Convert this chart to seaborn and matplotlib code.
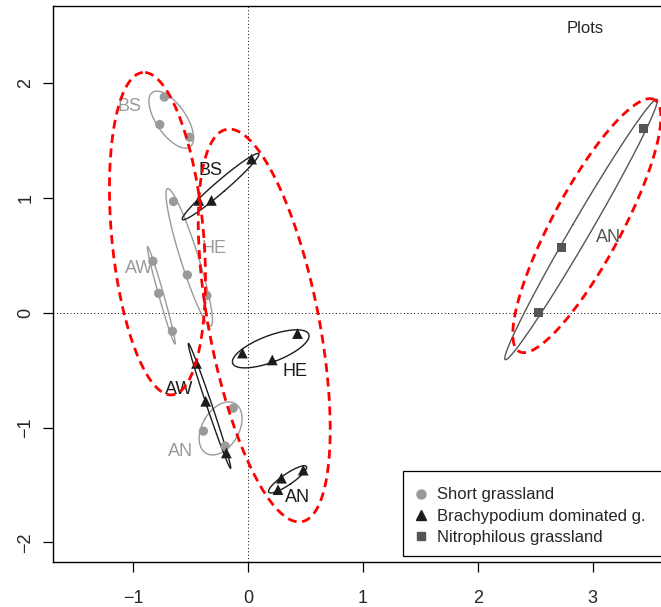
import numpy as np
import pandas as pd
import matplotlib
matplotlib.use("Agg")
import matplotlib.pyplot as plt
from matplotlib.lines import Line2D
from matplotlib.patches import Rectangle
import seaborn as sns

sns.set_theme(style="white")
plt.rcParams['font.family'] = ['Liberation Sans', 'DejaVu Sans']

# ---- data (scores) ----
groups = ["Short grassland"] * 12 + ["Brachypodium dominated g."] * 12 + ["Nitrophilous grassland"] * 3
plots = (["BS"] * 3 + ["HE"] * 3 + ["AW"] * 3 + ["AN"] * 3) * 2 + ["AN"] * 3
axis1 = [-0.73, -0.77, -0.51, -0.65, -0.53, -0.36, -0.83, -0.78, -0.66, -0.13, -0.39, -0.20,
         0.03, -0.43, -0.32, -0.05, 0.21, 0.43, -0.45, -0.37, -0.19, 0.48, 0.29, 0.26,
         3.44, 2.73, 2.53]
axis2 = [1.88, 1.64, 1.53, 0.97, 0.33, 0.15, 0.45, 0.17, -0.16, -0.83, -1.03, -1.16,
         1.34, 0.98, 0.98, -0.35, -0.41, -0.18, -0.44, -0.77, -1.22, -1.37, -1.44, -1.54,
         1.61, 0.57, 0.00]

# group label positions
label_group = ["Short grassland"] * 4 + ["Brachypodium dominated g."] * 4 + ["Nitrophilous grassland"]
label_text = ["BS", "HE", "AW", "AN", "BS", "HE", "AW", "AN", "AN"]
label_x = [-1.03, -0.30, -0.95, -0.59, -0.33, 0.41, -0.60, 0.43, 3.14]
label_y = [1.80, 0.56, 0.39, -1.21, 1.24, -0.51, -0.67, -1.61, 0.66]

# highlighted clusters (red dashed ellipses): centre, semi-axes, angle (deg)
red_cx = [-0.79, 0.14, 2.95]
red_cy = [0.69, -0.11, 0.76]
red_a = [1.41, 1.74, 1.245]
red_b = [0.40, 0.48, 0.30]
red_angle = [95.2, 100.9, 61.8]

group_order = ["Short grassland", "Brachypodium dominated g.", "Nitrophilous grassland"]
group_colors = ["#9a9a9a", "#1c1c1c", "#555555"]
group_markers = ["o", "^", "s"]
group_sizes = [45, 60, 42]

df = pd.DataFrame({"group": groups, "plot": plots, "x": axis1, "y": axis2})

W, H = 661, 607
fig = plt.figure(figsize=(W / 100, H / 100), dpi=100)
# axis scale: ~114.8 px per unit on both axes
x0, x1 = -1.70, 3.70
y0, y1 = -2.17, 2.675
px = 114.8
ax = fig.add_axes([53 / W, (H - 562) / H, (x1 - x0) * px / W, (y1 - y0) * px / H])
ax.set_xlim(x0, x1)
ax.set_ylim(y0, y1)

ax.axhline(0, color="black", lw=0.7, ls=(0, (1, 2.5)), zorder=1)
ax.axvline(0, color="black", lw=0.7, ls=(0, (1, 2.5)), zorder=1)

SCALE = 1.39
t = np.linspace(0, 2 * np.pi, 300)
for g, c in zip(group_order, group_colors):
    sub = df[df.group == g]
    for p, pts in sub.groupby("plot", sort=False):
        xy = pts[["x", "y"]].to_numpy()
        m = xy.mean(axis=0)
        cov = np.cov(xy.T)
        vals, vecs = np.linalg.eigh(cov)
        vals = np.clip(vals, 1e-6, None)
        circ = np.vstack([np.cos(t), np.sin(t)])
        e = (vecs @ np.diag(np.sqrt(vals) * SCALE) @ circ).T + m
        ax.plot(e[:, 0], e[:, 1], color=c, lw=1.0, zorder=2)

for g, c, mk, s in zip(group_order, group_colors, group_markers, group_sizes):
    sns.scatterplot(data=df[df.group == g], x="x", y="y", color=c, marker=mk, s=s,
                    edgecolor="none", ax=ax, legend=False, zorder=3)

for g, txt, lx, ly in zip(label_group, label_text, label_x, label_y):
    c = group_colors[group_order.index(g)]
    ax.text(lx, ly, txt, color=c, fontsize=13, ha="center", va="center", zorder=4)

for cx, cy, a, b, ang in zip(red_cx, red_cy, red_a, red_b, red_angle):
    th = np.deg2rad(ang)
    ex = cx + a * np.cos(t) * np.cos(th) - b * np.sin(t) * np.sin(th)
    ey = cy + a * np.cos(t) * np.sin(th) + b * np.sin(t) * np.cos(th)
    ax.plot(ex, ey, color="red", lw=2.0, ls=(0, (3.2, 2.0)), zorder=5)

ax.text(2.94, 2.48, "Plots", fontsize=12, ha="center", va="center")

ax.set_xlabel("")
ax.set_ylabel("")
ax.set_xticks([-1, 0, 1, 2, 3])
ax.set_yticks([-2, -1, 0, 1, 2])
ax.set_xticklabels(["\u22121", "0", "1", "2", "3"])
ax.set_yticklabels(["\u22122", "\u22121", "0", "1", "2"], rotation=90, va="center")
ax.tick_params(axis="both", direction="out", length=7.5, width=0.9, color="black",
               labelsize=13, bottom=True, left=True)
ax.tick_params(axis="x", pad=12.5)
ax.tick_params(axis="y", pad=6)
for side in ["left", "top", "bottom"]:
    ax.spines[side].set_visible(True)
    ax.spines[side].set_color("black")
    ax.spines[side].set_linewidth(1.0)
ax.spines["right"].set_visible(False)
ax.grid(False)

# legend box (extends past the right edge of the figure, as in the original)
box = Rectangle((403 / W, 1 - 556 / H), 300 / W, 85 / H,
                transform=fig.transFigure, fill=True, facecolor="white",
                edgecolor="black", lw=0.9, zorder=6, clip_on=False)
ax.add_patch(box)
handles = [Line2D([], [], marker=mk, color=c, linestyle="none", markersize=ms)
           for c, mk, ms in zip(group_colors, group_markers, [6.5, 7.5, 6])]
leg = ax.legend(handles, group_order, loc="upper left",
                bbox_to_anchor=(403 / W, 1 - 474 / H), bbox_transform=fig.transFigure,
                frameon=False, fontsize=12, handlelength=0.5, handletextpad=0.74,
                borderpad=0.8, labelspacing=0.38, borderaxespad=0)
leg.set_zorder(7)

fig.savefig("out.png", dpi=100)
